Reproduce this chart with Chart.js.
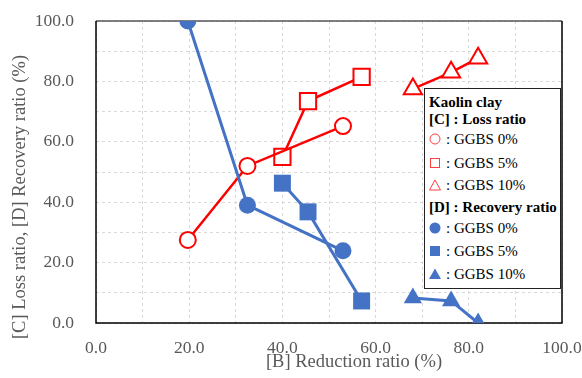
<!DOCTYPE html>
<html>
<head>
<meta charset="utf-8">
<script src="https://cdn.jsdelivr.net/npm/chart.js@4"></script>
<style>
  html, body { margin:0; padding:0; background:#fff; }
  #wrap { position:relative; width:582px; height:378px; }
  #legend { position:absolute; left:424px; top:88px; width:135px; height:199px; border:1.5px solid #222; background:#fff; font-family:"Liberation Serif", serif; color:#000; }
  #legend .row { position:absolute; left:0; height:20px; line-height:20px; white-space:nowrap; }
  #legend .head { left:4px; font-weight:bold; font-size:15px; font-family:"Liberation Serif", serif; }
  #legend .item { left:4px; font-size:15px; }
  #legend svg { position:absolute; left:0; top:4px; }
  #legend .item span { position:absolute; left:17px; }
</style>
</head>
<body>
<div id="wrap">
  <canvas id="c" width="582" height="378"></canvas>
  <div id="legend">
    <div class="row head" style="top:3px">Kaolin clay</div>
    <div class="row head" style="top:20px">[C] : Loss ratio</div>
    <div class="row item" style="top:40px"><svg width="14" height="12"><circle cx="6" cy="6" r="5" fill="#fff" stroke="#ff4040" stroke-width="1"/></svg><span>: GGBS 0%</span></div>
    <div class="row item" style="top:64px"><svg width="14" height="12"><rect x="1.5" y="1.5" width="9" height="9" fill="#fff" stroke="#ff4040" stroke-width="1"/></svg><span>: GGBS 5%</span></div>
    <div class="row item" style="top:86px"><svg width="14" height="12"><polygon points="6,1 11.5,11 0.5,11" fill="#fff" stroke="#ff4040" stroke-width="1"/></svg><span>: GGBS 10%</span></div>
    <div class="row head" style="top:108px">[D] : Recovery ratio</div>
    <div class="row item" style="top:129px"><svg width="14" height="12"><circle cx="6" cy="6" r="5.5" fill="#4472C4"/></svg><span>: GGBS 0%</span></div>
    <div class="row item" style="top:152px"><svg width="14" height="12"><rect x="1" y="1" width="10" height="10" fill="#4472C4"/></svg><span>: GGBS 5%</span></div>
    <div class="row item" style="top:175px"><svg width="14" height="12"><polygon points="6,0.5 12,11 0,11" fill="#4472C4"/></svg><span>: GGBS 10%</span></div>
  </div>
</div>
<script>
// Reduction ratio [B] (%) for each group
const reductionG0  = [19.7, 32.5, 53.0];
const reductionG5  = [40.0, 45.5, 57.0];
const reductionG10 = [68.0, 76.2, 82.0];
// [C] Loss ratio (%)
const lossG0  = [27.5, 52.0, 65.2];
const lossG5  = [55.0, 73.5, 81.5];
const lossG10 = [77.5, 83.0, 87.7];
// [D] Recovery ratio (%)
const recovG0  = [100.0, 39.0, 23.9];
const recovG5  = [46.3, 36.8, 7.3];
const recovG10 = [8.3, 7.3, 0.0];
// axis ticks and titles
const xTickLabels = [0, 20, 40, 60, 80, 100];
const yTickLabels = [0, 20, 40, 60, 80, 100];
const xTitle = '[B] Reduction ratio (%)';
const yTitle = '[C] Loss ratio, [D] Recovery ratio (%)';

const RED = '#FF0000', BLUE = '#4472C4';
const pts = (xs, ys) => xs.map((x, i) => ({x, y: ys[i]}));

function ds(xs, ys, color, style, radius, filled, order) {
  return {
    data: pts(xs, ys), showLine: true,
    borderColor: color, borderWidth: filled ? 3 : 2.5,
    pointStyle: style, pointRadius: radius, pointHoverRadius: radius,
    pointBackgroundColor: filled ? color : '#fff',
    pointBorderColor: color, pointBorderWidth: filled ? 0 : 2,
    order: order
  };
}

const fontFam = '"Liberation Serif", "Times New Roman", serif';

const frame = {
  id: 'frame',
  beforeDatasetsDraw(chart) {
    const {ctx, chartArea: a} = chart;
    ctx.save();
    ctx.lineWidth = 1.5;
    ctx.strokeStyle = '#555';
    ctx.beginPath(); ctx.moveTo(a.left, a.top); ctx.lineTo(a.right, a.top); ctx.stroke();
    ctx.strokeStyle = '#000';
    ctx.beginPath();
    ctx.moveTo(a.right, a.top); ctx.lineTo(a.right, a.bottom); ctx.lineTo(a.left, a.bottom); ctx.lineTo(a.left, a.top);
    ctx.stroke();
    ctx.restore();
  },
  afterDraw(chart) {
    const {ctx} = chart;
    ctx.save();
    ctx.fillStyle = '#595959';
    ctx.font = '18.5px ' + fontFam;
    ctx.textAlign = 'center';
    ctx.textBaseline = 'alphabetic';
    ctx.fillText(xTitle, 354, 367);
    ctx.translate(25, 197);
    ctx.rotate(-Math.PI / 2);
    ctx.fillText(yTitle, 0, 0);
    ctx.restore();
  }
};

function axis(labels, tickLen) {
  return {
    type: 'linear', min: 0, max: 100,
    ticks: {
      stepSize: 10, padding: 0, color: '#595959', autoSkip: false, maxRotation: 0,
      font: {family: fontFam, size: 17.5},
      callback: v => labels.includes(v) ? v.toFixed(1) : ''
    },
    grid: {color: '#d9d9d9', lineWidth: 1, drawTicks: true, tickLength: tickLen, tickColor: 'rgba(0,0,0,0)'},
    border: {display: false, dash: [3, 3]},
    title: {display: false}
  };
}

const xAxis = axis(xTickLabels, 15);
xAxis.afterFit = s => { s.height = 378 - 323; };
const yAxis = axis(yTickLabels, 22);
yAxis.afterFit = s => { s.width = 96; };

new Chart(document.getElementById('c'), {
  type: 'scatter',
  data: {
    datasets: [
      ds(reductionG0, lossG0, RED, 'circle', 8, false, 2),
      ds(reductionG5, lossG5, RED, 'rect', 11.5, false, 2),
      ds(reductionG10, lossG10, RED, 'triangle', 10.5, false, 2),
      ds(reductionG0, recovG0, BLUE, 'circle', 8.5, true, 1),
      ds(reductionG5, recovG5, BLUE, 'rect', 12, true, 1),
      ds(reductionG10, recovG10, BLUE, 'triangle', 10.5, true, 1)
    ]
  },
  options: {
    responsive: false, animation: false,
    layout: {padding: {left: 0, right: 20, top: 21, bottom: 0}},
    plugins: {legend: {display: false}, tooltip: {enabled: false}},
    scales: {x: xAxis, y: yAxis}
  },
  plugins: [frame]
});
</script>
</body>
</html>
